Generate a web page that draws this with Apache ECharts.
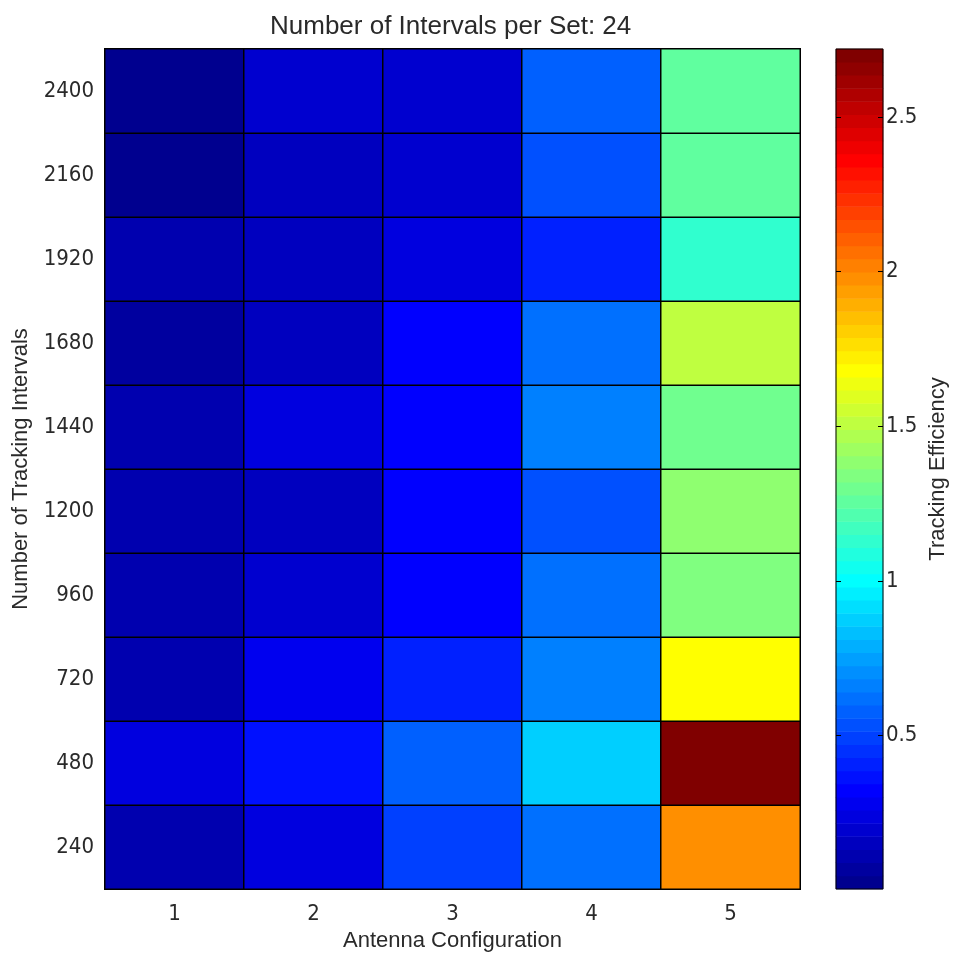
<!DOCTYPE html>
<html>
<head>
<meta charset="utf-8">
<script src="https://cdn.jsdelivr.net/npm/echarts@6/dist/echarts.min.js"></script>
<style>html,body{margin:0;padding:0;background:#fff}#c{width:955px;height:953px}</style>
</head>
<body>
<div id="c"></div>
<script>
// ---- data ----
var titleText = 'Number of Intervals per Set: 24';
var configs = ['1', '2', '3', '4', '5'];
var intervals = ['240', '480', '720', '960', '1200', '1440', '1680', '1920', '2160', '2400'];
// efficiency per antenna configuration (1..5), one array per tracking-interval row
var eff240  = [0.11, 0.24, 0.49, 0.62, 1.98];
var eff480  = [0.24, 0.36, 0.58, 0.87, 2.72];
var eff720  = [0.11, 0.28, 0.41, 0.66, 1.68];
var eff960  = [0.11, 0.195, 0.32, 0.62, 1.34];
var eff1200 = [0.11, 0.15, 0.32, 0.53, 1.38];
var eff1440 = [0.11, 0.237, 0.32, 0.66, 1.30];
var eff1680 = [0.07, 0.15, 0.32, 0.62, 1.51];
var eff1920 = [0.11, 0.17, 0.237, 0.41, 1.13];
var eff2160 = [0.004, 0.153, 0.195, 0.53, 1.26];
var eff2400 = [0.03, 0.215, 0.195, 0.58, 1.26];
var colorbarTicks = [0.5, 1, 1.5, 2, 2.5];

var rows = [eff240, eff480, eff720, eff960, eff1200, eff1440, eff1680, eff1920, eff2160, eff2400];

// ---- jet(64) colormap ----
function jet(i) { // i = 1..64
  var r, g, b;
  if (i <= 8) { r = 0; g = 0; b = 0.5 + i * 0.0625; }
  else if (i <= 24) { r = 0; g = (i - 8) * 0.0625; b = 1; }
  else if (i <= 40) { r = (i - 24) * 0.0625; g = 1; b = 1 - (i - 24) * 0.0625; }
  else if (i <= 56) { r = 1; g = 1 - (i - 40) * 0.0625; b = 0; }
  else { r = 1 - (i - 56) * 0.0625; g = 0; b = 0; }
  function h(v) { var s = Math.round(v * 255).toString(16); return s.length < 2 ? '0' + s : s; }
  return '#' + h(r) + h(g) + h(b);
}
var N = 64;
var all = [];
rows.forEach(function (r) { all = all.concat(r); });
var cmin = Math.min.apply(null, all), cmax = Math.max.apply(null, all);
var w = (cmax - cmin) / N;
var pieces = [];
for (var k = 0; k < N; k++) {
  var p = { gte: cmin + k * w, color: jet(k + 1) };
  if (k < N - 1) p.lt = cmin + (k + 1) * w; else p.lte = cmax + 1e-9;
  pieces.push(p);
}

var heat = [];
rows.forEach(function (r, yi) {
  r.forEach(function (v, xi) { heat.push([xi, yi, v]); });
});
var cbCats = [], cbData = [];
for (var k2 = 0; k2 < N; k2++) {
  cbCats.push(String(k2));
  cbData.push({ value: [0, k2, cmin + (k2 + 0.5) * w], itemStyle: { color: jet(k2 + 1) } });
}

var FONT = 'Liberation Sans';
var NARROW = '"Liberation Sans Narrow", "Arial Narrow", "DejaVu Sans Condensed", sans-serif';
var TXT = '#2a2a2a';

var chart = echarts.init(document.getElementById('c'), null, { renderer: 'canvas' });
chart.setOption({
  animation: false,
  backgroundColor: '#fff',
  textStyle: { fontFamily: FONT },
  title: {
    text: titleText, left: 265, top: 9,
    textStyle: { fontFamily: FONT, fontSize: 26, fontWeight: 'normal', color: TXT }
  },
  grid: [
    { left: 105, top: 49, width: 695, height: 840, outerBoundsMode: 'none', containLabel: false },
    { left: 836, top: 49, width: 47, height: 840, outerBoundsMode: 'none', containLabel: false,
      show: true, borderColor: '#000', borderWidth: 1, backgroundColor: 'transparent', z: 10 }
  ],
  xAxis: [
    {
      type: 'category', gridIndex: 0, data: configs,
      name: 'Antenna Configuration', nameLocation: 'middle', nameGap: 39,
      nameTextStyle: { fontFamily: FONT, fontSize: 22, color: TXT },
      axisLine: { show: true, lineStyle: { color: '#000', width: 1 } },
      axisTick: { show: false }, splitLine: { show: false },
      axisLabel: { margin: 14, fontFamily: NARROW, fontSize: 22, color: TXT }
    },
    { type: 'category', gridIndex: 1, data: ['c'], show: false }
  ],
  yAxis: [
    {
      type: 'category', gridIndex: 0, data: intervals,
      name: 'Number of Tracking Intervals', nameLocation: 'middle', nameGap: 73,
      nameTextStyle: { fontFamily: FONT, fontSize: 22, color: TXT },
      axisLine: { show: true, lineStyle: { color: '#000', width: 1 } },
      axisTick: { show: false }, splitLine: { show: false },
      axisLabel: { margin: 11, fontFamily: NARROW, fontSize: 22, color: TXT }
    },
    { type: 'category', gridIndex: 1, data: cbCats, show: false },
    {
      type: 'value', gridIndex: 1, position: 'right', min: cmin, max: cmax,
      axisLine: { show: false }, splitLine: { show: false },
      axisTick: { show: true, inside: true, length: 5, customValues: colorbarTicks, lineStyle: { color: '#000' } },
      axisLabel: { show: true, margin: 3, fontFamily: NARROW, fontSize: 22, color: TXT, customValues: colorbarTicks,
        formatter: function (v) { return String(v); } },
      z: 20
    },
    {
      type: 'value', gridIndex: 1, position: 'left', min: cmin, max: cmax,
      axisLine: { show: false }, splitLine: { show: false },
      axisTick: { show: true, inside: true, length: 5, customValues: colorbarTicks, lineStyle: { color: '#000' } },
      axisLabel: { show: false, customValues: colorbarTicks },
      z: 20
    }
  ],
  visualMap: {
    type: 'piecewise', show: false, seriesIndex: 0, dimension: 2, pieces: pieces
  },
  graphic: [
    {
      type: 'text', x: 938, y: 469, rotation: Math.PI / 2,
      style: { text: 'Tracking Efficiency', fontFamily: FONT, fontSize: 22, fill: TXT, align: 'center', verticalAlign: 'middle' }
    }
  ],
  series: [
    {
      type: 'heatmap', xAxisIndex: 0, yAxisIndex: 0, data: heat,
      itemStyle: { borderColor: '#000', borderWidth: 1.5 },
      emphasis: { disabled: true }
    },
    {
      type: 'heatmap', xAxisIndex: 1, yAxisIndex: 1, data: cbData,
      itemStyle: { borderWidth: 0 },
      emphasis: { disabled: true }
    }
  ]
});
</script>
</body>
</html>
